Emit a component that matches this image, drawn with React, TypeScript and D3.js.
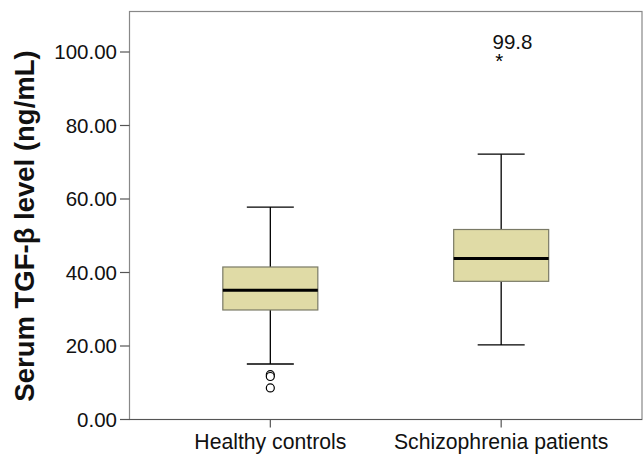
import React from "react";
import * as d3 from "d3";

const categories = ["Healthy controls", "Schizophrenia patients"];
const whiskerLow = [15.1, 20.3];
const q1 = [29.8, 37.6];
const median = [35.2, 43.8];
const q3 = [41.5, 51.7];
const whiskerHigh = [57.8, 72.2];
const outliersCircle = [[12.2, 11.7, 8.6], []];
const extremes = [[], [99.8]];
const yTicks = [0, 20, 40, 60, 80, 100];

const W = 644;
const H = 455;
const left = 129.5;
const right = 642;
const top = 11.5;
const bottom = 419.5;

export default function App() {
  const y = d3.scaleLinear().domain([0, 100]).range([bottom, 52]);
  const x = d3.scalePoint<string>().domain(categories).range([left, right]).padding(0.61);
  const boxW = 95;
  const capW = 47;
  const font = "Arial, 'Liberation Sans', Helvetica, sans-serif";
  return (
    <svg width={W} height={H} style={{ position: "absolute", left: 0, top: 0 }}>
      <rect x={0} y={0} width={W} height={H} fill="#fff" />
      <rect x={left} y={top} width={right - left} height={bottom - top} fill="none" stroke="#888" strokeWidth={1.2} />
      <line x1={123} x2={right} y1={bottom} y2={bottom} stroke="#555" strokeWidth={1.2} />
      {yTicks.map((t) => (
        <g key={t}>
          <line x1={120} x2={left} y1={y(t)} y2={y(t)} stroke="#555" strokeWidth={1.2} />
          <text x={117} y={y(t)} dy="0.36em" textAnchor="end" fontFamily={font} fontSize={20.5} fill="#111">
            {t.toFixed(2)}
          </text>
        </g>
      ))}
      {categories.map((c, i) => {
        const cx = x(c)!;
        return (
          <g key={c}>
            <line x1={cx} x2={cx} y1={bottom} y2={bottom + 8} stroke="#555" strokeWidth={1.2} />
            <text x={cx} y={449} textAnchor="middle" fontFamily={font} fontSize={21.2} fill="#111">
              {c}
            </text>
            <line x1={cx} x2={cx} y1={y(whiskerHigh[i])} y2={y(q3[i])} stroke="#000" strokeWidth={1.3} />
            <line x1={cx} x2={cx} y1={y(q1[i])} y2={y(whiskerLow[i])} stroke="#000" strokeWidth={1.3} />
            <line x1={cx - capW / 2} x2={cx + capW / 2} y1={y(whiskerHigh[i])} y2={y(whiskerHigh[i])} stroke="#000" strokeWidth={1.3} />
            <line x1={cx - capW / 2} x2={cx + capW / 2} y1={y(whiskerLow[i])} y2={y(whiskerLow[i])} stroke="#000" strokeWidth={1.3} />
            <rect
              x={cx - boxW / 2}
              y={y(q3[i])}
              width={boxW}
              height={y(q1[i]) - y(q3[i])}
              fill="#e0dba6"
              stroke="#7a7a66"
              strokeWidth={1.2}
            />
            <line x1={cx - boxW / 2} x2={cx + boxW / 2} y1={y(median[i])} y2={y(median[i])} stroke="#000" strokeWidth={3} />
            {outliersCircle[i].map((v, j) => (
              <circle key={j} cx={cx} cy={y(v)} r={4} fill="#fff" stroke="#000" strokeWidth={1.2} />
            ))}
            {extremes[i].map((v, j) => (
              <g key={j}>
                <text x={cx - 2} y={y(v) + 15.5} textAnchor="middle" fontFamily={font} fontSize={20.5} fill="#000">
                  *
                </text>
                <text x={cx - 8.6} y={y(v) - 4} fontFamily={font} fontSize={20.5} fill="#111">
                  {v.toFixed(1)}
                </text>
              </g>
            ))}
          </g>
        );
      })}
      <text
        transform={`translate(34, 226) rotate(-90)`}
        textAnchor="middle"
        fontFamily={font}
        fontSize={27.5}
        fontWeight="bold"
        fill="#111"
      >
        Serum TGF-β level (ng/mL)
      </text>
    </svg>
  );
}
